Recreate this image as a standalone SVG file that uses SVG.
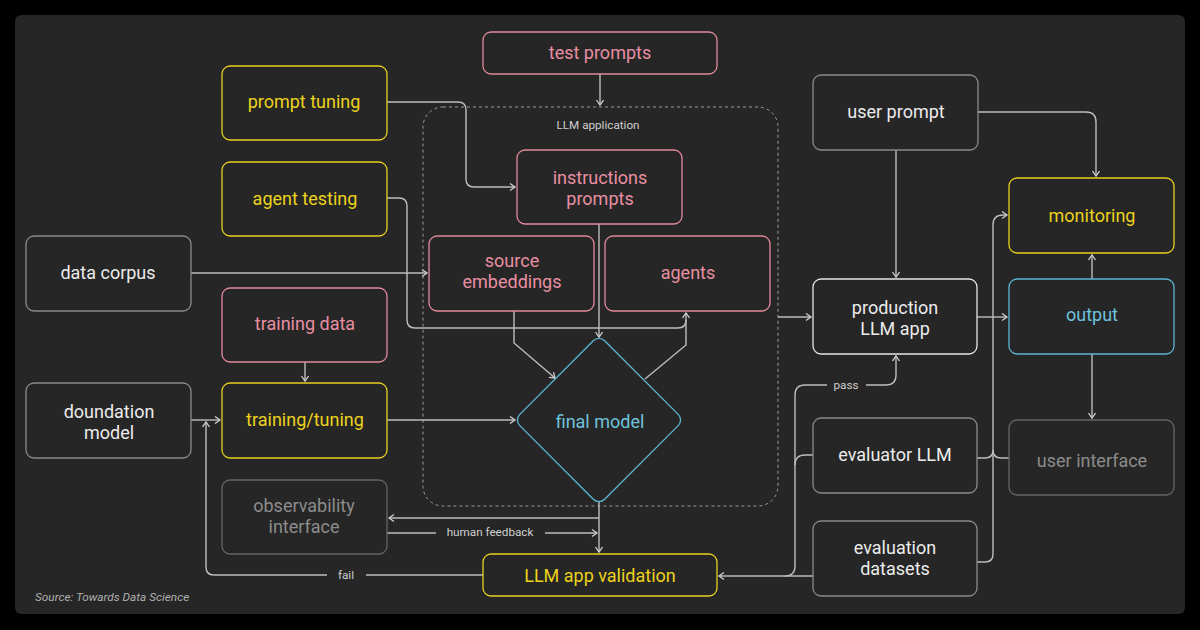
<svg xmlns="http://www.w3.org/2000/svg" width="1200" height="630" viewBox="0 0 1200 630">
<defs>
<style>
.n{fill:#262626;stroke-width:1.3}
.g{stroke:#8a8a8a}
.dim{stroke:#666}
.w{stroke:#e6e6e6}
.y{stroke:#e7cf1e}
.p{stroke:#e3899c}
.b{stroke:#5cb6d2}
text{font-family:Roboto,"Liberation Sans",sans-serif;text-anchor:middle;dominant-baseline:central}
.t{font-size:18px}
.tw{fill:#ececec}
.tg{fill:#8c8c8c}
.ty{fill:#ecd21c}
.tp{fill:#e88fa2}
.tb{fill:#6fc3dc}
.s{font-size:11.7px;fill:#cfcfcf}
.c{fill:none;stroke:#bdbdbd;stroke-width:1.4}
</style>
<marker id="a" markerUnits="userSpaceOnUse" markerWidth="10" markerHeight="10" refX="6" refY="4" orient="auto">
<path d="M1,0.5 L6,4 L1,7.5" fill="none" stroke="#cfcfcf" stroke-width="1.3"/>
</marker>
</defs>
<rect width="1200" height="630" fill="#000"/>
<rect x="15" y="15" width="1170" height="599" rx="6" fill="#262626"/>

<g id="llm-application">
<rect x="423" y="107" width="355" height="399" rx="20" fill="none" stroke="#9a9a9a" stroke-width="1" stroke-dasharray="3,3"/>
<text x="598" y="125" class="s">LLM application</text>
</g>

<g id="connectors">
<path class="c" d="M600,74 V105" marker-end="url(#a)"/>
<path class="c" d="M387,102 H458 Q466,102 466,110 V179 Q466,187 474,187 H515" marker-end="url(#a)"/>
<path class="c" d="M387,198 H399 Q407,198 407,206 V320 Q407,328 415,328 H678 Q686,328 686,320 V313" marker-end="url(#a)"/>
<path class="c" d="M645,379 L686,345 V320"/>
<path class="c" d="M191,273 H427" marker-end="url(#a)"/>
<path class="c" d="M514,311 V343 L555,378" marker-end="url(#a)"/>
<path class="c" d="M599,224 V337" marker-end="url(#a)"/>
<path class="c" d="M387,420 H515" marker-end="url(#a)"/>
<path class="c" d="M305,362 V381" marker-end="url(#a)"/>
<path class="c" d="M191,420 H220" marker-end="url(#a)"/>
<path class="c" d="M483,575 H366"/>
<path class="c" d="M327,575 H214 Q206,575 206,567 V422" marker-end="url(#a)"/>
<text x="346" y="575" class="s">fail</text>
<path class="c" d="M599,502 V552" marker-end="url(#a)"/>
<path class="c" d="M599,518 H389" marker-end="url(#a)"/>
<path class="c" d="M387,533 H436"/>
<path class="c" d="M545,533 H597" marker-end="url(#a)"/>
<text x="490" y="532" class="s">human feedback</text>
<path class="c" d="M813,576 H719" marker-end="url(#a)"/>
<path class="c" d="M785,576 Q795,576 795,566 V395 Q795,385 805,385 H827"/>
<path class="c" d="M813,455 H805 Q795,455 795,465"/>
<path class="c" d="M866,385 H886 Q896,385 896,375 V356" marker-end="url(#a)"/>
<text x="846" y="385" class="s">pass</text>
<path class="c" d="M778,317 H811" marker-end="url(#a)"/>
<path class="c" d="M896,150 V277" marker-end="url(#a)"/>
<path class="c" d="M978,112 H1086 Q1096,112 1096,122 V176" marker-end="url(#a)"/>
<path class="c" d="M977,317 H1007" marker-end="url(#a)"/>
<path class="c" d="M1092,279 V255" marker-end="url(#a)"/>
<path class="c" d="M1092,354 V418" marker-end="url(#a)"/>
<path class="c" d="M977,562 H985 Q993,562 993,554 V225 Q993,215 1003,215 H1007" marker-end="url(#a)"/>
<path class="c" d="M977,458 H985 Q993,458 993,450"/>
<path class="c" d="M1009,458 H1001 Q993,458 993,450"/>
</g>

<g id="test-prompts"><rect class="n p" x="483" y="32" width="234" height="42" rx="8"/><text x="600" y="52" class="t tp">test prompts</text></g>
<g id="prompt-tuning"><rect class="n y" x="222" y="66" width="165" height="74" rx="8"/><text x="304" y="101" class="t ty">prompt tuning</text></g>
<g id="agent-testing"><rect class="n y" x="222" y="162" width="165" height="74" rx="8"/><text x="305" y="198" class="t ty">agent testing</text></g>
<g id="data-corpus"><rect class="n g" x="26" y="236" width="165" height="75" rx="8"/><text x="108" y="272" class="t tw">data corpus</text></g>
<g id="training-data"><rect class="n p" x="222" y="288" width="165" height="74" rx="8"/><text x="305" y="323" class="t tp">training data</text></g>
<g id="foundation-model"><rect class="n g" x="26" y="383" width="165" height="75" rx="8"/><text x="109" y="411" class="t tw">doundation</text><text x="109" y="432" class="t tw">model</text></g>
<g id="training-tuning"><rect class="n y" x="222" y="383" width="165" height="75" rx="8"/><text x="305" y="419" class="t ty">training/tuning</text></g>
<g id="observability-interface"><rect class="n dim" x="222" y="480" width="165" height="74" rx="8"/><text x="304" y="505" class="t tg">observability</text><text x="304" y="526" class="t tg">interface</text></g>
<g id="llm-app-validation"><rect class="n y" x="483" y="554" width="234" height="42" rx="8"/><text x="600" y="575" class="t ty">LLM app validation</text></g>
<g id="instructions-prompts"><rect class="n p" x="517" y="150" width="165" height="74" rx="8"/><text x="600" y="177" class="t tp">instructions</text><text x="600" y="198" class="t tp">prompts</text></g>
<g id="source-embeddings"><rect class="n p" x="429" y="236" width="165" height="75" rx="8"/><text x="512" y="260" class="t tp">source</text><text x="512" y="281" class="t tp">embeddings</text></g>
<g id="agents"><rect class="n p" x="605" y="236" width="165" height="75" rx="8"/><text x="688" y="272" class="t tp">agents</text></g>
<g id="final-model"><rect class="n b" x="-60" y="-60" width="120" height="120" rx="8" transform="translate(599,420) rotate(45)"/><text x="600" y="421" class="t tb">final model</text></g>
<g id="user-prompt"><rect class="n g" x="813" y="75" width="165" height="75" rx="8"/><text x="896" y="111" class="t tw">user prompt</text></g>
<g id="production-llm-app"><rect class="n w" x="813" y="279" width="164" height="75" rx="8"/><text x="895" y="307" class="t tw">production</text><text x="895" y="328" class="t tw">LLM app</text></g>
<g id="monitoring"><rect class="n y" x="1009" y="178" width="165" height="75" rx="8"/><text x="1092" y="215" class="t ty">monitoring</text></g>
<g id="output"><rect class="n b" x="1009" y="279" width="165" height="75" rx="8"/><text x="1092" y="314" class="t tb">output</text></g>
<g id="evaluator-llm"><rect class="n g" x="813" y="418" width="164" height="75" rx="8"/><text x="895" y="454" class="t tw">evaluator LLM</text></g>
<g id="user-interface"><rect class="n dim" x="1009" y="420" width="165" height="75" rx="8"/><text x="1092" y="460" class="t tg">user interface</text></g>
<g id="evaluation-datasets"><rect class="n g" x="813" y="521" width="164" height="75" rx="8"/><text x="895" y="547" class="t tw">evaluation</text><text x="895" y="568" class="t tw">datasets</text></g>

<text x="35" y="597" style="font-size:11.8px;font-style:italic;text-anchor:start;fill:#b0b0b0">Source: Towards Data Science</text>
</svg>
